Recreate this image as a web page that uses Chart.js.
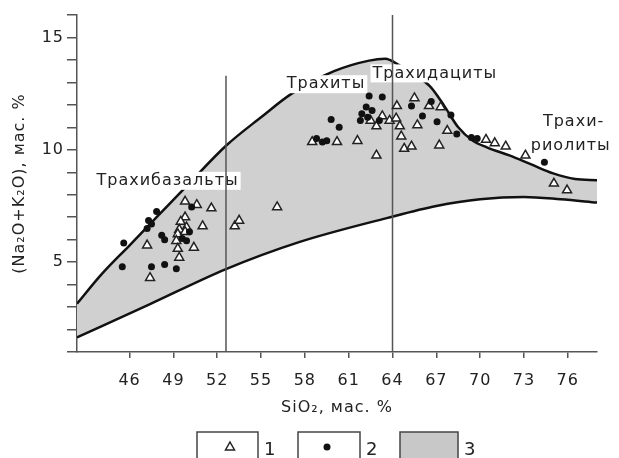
<!DOCTYPE html>
<html>
<head>
<meta charset="utf-8">
<script src="https://cdn.jsdelivr.net/npm/chart.js"></script>
<style>
  html, body { margin: 0; padding: 0; background: #fff; }
</style>
</head>
<body>
<canvas id="tas" width="619" height="458"></canvas>
<script>
// ---------------- данные ----------------
const xTicks = [46, 49, 52, 55, 58, 61, 64, 67, 70, 73, 76];

// 1 - треугольники
const triX = [49.8, 50.6, 51.6, 49.8, 49.5, 51.0, 49.9, 49.4, 49.3, 49.8, 49.2, 50.4, 49.3, 49.4, 47.2, 47.4,
  53.2, 53.5, 56.1,
  58.5, 60.2, 61.6, 62.9, 62.5, 63.3, 62.9, 63.8, 64.25, 64.5, 64.6, 64.8,
  64.3, 65.5, 66.5, 67.3, 65.7, 65.3, 67.2, 67.75,
  70.4, 71.0, 71.75, 73.1, 75.05, 75.95];
const triY = [7.7, 7.55, 7.4, 7.0, 6.8, 6.6, 6.55, 6.45, 6.25, 6.35, 5.95, 5.65, 5.6, 5.2, 5.75, 4.3,
  6.6, 6.85, 7.45,
  10.35, 10.35, 10.4, 9.75, 11.3, 11.5, 11.05, 11.3, 11.4, 11.05, 10.6, 10.05,
  11.95, 12.3, 11.95, 11.9, 11.1, 10.15, 10.2, 10.85,
  10.45, 10.3, 10.15, 9.75, 8.5, 8.2];

// 2 - точки
const dotX = [47.85, 47.5, 47.2, 47.3, 48.2, 48.4, 45.6, 45.5, 47.5, 48.4, 49.2, 50.25, 49.6, 49.9, 50.1,
  59.8, 60.35, 58.8, 59.2, 59.5, 62.4, 63.3, 61.9, 62.3, 62.6, 63.1, 61.8, 62.2,
  65.3, 66.05, 66.65, 67.05, 68.0, 68.4, 69.4, 69.8, 74.4];
const dotY = [7.25, 6.7, 6.5, 6.85, 6.2, 6.0, 5.85, 4.8, 4.8, 4.9, 4.7, 7.45, 6.05, 5.95, 6.35,
  11.35, 11.0, 10.5, 10.35, 10.4, 12.4, 12.35, 11.6, 11.45, 11.75, 11.3, 11.3, 11.9,
  11.95, 11.5, 12.15, 11.25, 11.55, 10.7, 10.55, 10.5, 9.45];

// 3 - поле (верхняя и нижняя границы)
const upperX = [42.4, 44, 46, 48, 50, 52.6, 55, 57.1, 60, 62.4, 63.5, 64.5, 65.5, 66.6, 67.5, 68.5, 69.5, 70.5, 72, 73.5, 75, 76.5, 78];
const upperY = [3.15, 4.4, 5.75, 7.1, 8.45, 10.18, 11.45, 12.5, 13.5, 13.97, 14.05, 13.75, 13.35, 12.8, 12.0, 11.0, 10.4, 10.1, 9.75, 9.35, 8.95, 8.7, 8.65];
const lowerX = [42.4, 47.4, 52.6, 57.6, 63.6, 67, 70, 73, 75.5, 78];
const lowerY = [1.65, 3.13, 4.69, 5.89, 6.96, 7.5, 7.8, 7.9, 7.8, 7.65];

// вертикальные границы
const vLine1 = [[52.6, 1], [52.6, 13.3]];
const vLine2 = [[64, 1], [64, 16]];

// названия полей
const regionNames = ['Трахибазальты', 'Трахиты', 'Трахидациты', 'Трахи-', 'риолиты'];
const regionX = [48.6, 59.45, 66.9, 76.4, 76.2];
const regionY = [8.62, 12.92, 13.4, 11.25, 10.18];
const regionBg = [true, true, true, false, false];

const legendNames = ['1', '2', '3'];

// ---------------- вспомогательное ----------------
const FONT = '"DejaVu Sans", sans-serif';
const TEXT = '#222';
const toXY = (xs, ys) => xs.map((x, i) => ({ x: x, y: ys[i] }));
const pairs = (arr) => arr.map(p => ({ x: p[0], y: p[1] }));

const LOWER_IDX = 4;

const regionLabels = {
  id: 'regionLabels',
  beforeDraw(chart) {
    chart.ctx.letterSpacing = '1px';
  },
  afterDatasetDraw(chart, args) {
    if (args.index !== LOWER_IDX) return;
    const { ctx, scales: { x, y } } = chart;
    ctx.save();
    ctx.font = '16px ' + FONT;
    ctx.textAlign = 'center';
    ctx.textBaseline = 'middle';
    regionNames.forEach((name, i) => {
      const px = x.getPixelForValue(regionX[i]);
      const py = y.getPixelForValue(regionY[i]);
      if (regionBg[i]) {
        const w = ctx.measureText(name).width;
        ctx.fillStyle = '#fff';
        ctx.fillRect(px - w / 2 - 2, py - 9, w + 4, 18);
      }
      ctx.fillStyle = TEXT;
      ctx.fillText(name, px, py);
    });
    ctx.restore();
  },
  afterDraw(chart) {
    // условные обозначения
    const ctx = chart.ctx;
    ctx.save();
    const boxes = [197, 298, 400];
    const boxW = [61, 62, 58];
    ctx.lineWidth = 1.5;
    ctx.strokeStyle = '#444';
    boxes.forEach((bx, i) => {
      ctx.fillStyle = i === 2 ? '#c8c8c8' : '#fff';
      ctx.fillRect(bx, 432, boxW[i], 40);
      ctx.strokeRect(bx, 432, boxW[i], 40);
      ctx.fillStyle = TEXT;
      ctx.font = '18px ' + FONT;
      ctx.textAlign = 'left';
      ctx.textBaseline = 'middle';
      ctx.fillText(legendNames[i], bx + boxW[i] + 6, 450);
    });
    // треугольник
    ctx.beginPath();
    ctx.moveTo(230, 442);
    ctx.lineTo(234.5, 450);
    ctx.lineTo(225.5, 450);
    ctx.closePath();
    ctx.fillStyle = '#fff';
    ctx.fill();
    ctx.strokeStyle = '#222';
    ctx.stroke();
    // точка
    ctx.beginPath();
    ctx.arc(327, 447, 3.5, 0, Math.PI * 2);
    ctx.fillStyle = '#111';
    ctx.fill();
    ctx.restore();
  }
};

// ---------------- диаграмма ----------------
new Chart(document.getElementById('tas'), {
  type: 'line',
  data: {
    datasets: [
      {
        label: '2',
        data: toXY(dotX, dotY),
        showLine: false,
        pointStyle: 'circle',
        pointRadius: 3.5,
        pointBackgroundColor: '#111',
        pointBorderColor: '#111',
        pointBorderWidth: 0,
        order: 1
      },
      {
        label: '1',
        data: toXY(triX, triY),
        showLine: false,
        pointStyle: 'triangle',
        pointRadius: 5.2,
        pointBackgroundColor: '#fff',
        pointBorderColor: '#222',
        pointBorderWidth: 1.5,
        order: 2
      },
      {
        data: pairs(vLine1),
        borderColor: '#555',
        borderWidth: 1.5,
        pointRadius: 0,
        order: 3
      },
      {
        data: pairs(vLine2),
        borderColor: '#555',
        borderWidth: 1.5,
        pointRadius: 0,
        order: 3
      },
      {
        data: toXY(lowerX, lowerY),
        borderColor: '#111',
        borderWidth: 2.5,
        pointRadius: 0,
        cubicInterpolationMode: 'monotone',
        order: 4
      },
      {
        label: '3',
        data: toXY(upperX, upperY),
        borderColor: '#111',
        borderWidth: 2.5,
        pointRadius: 0,
        cubicInterpolationMode: 'monotone',
        fill: { target: LOWER_IDX },
        backgroundColor: '#d0d0d0',
        order: 5
      }
    ]
  },
  options: {
    responsive: false,
    animation: false,
    events: [],
    layout: { padding: { left: 0, top: 15, right: 22, bottom: 0 } },
    plugins: {
      legend: { display: false },
      tooltip: { enabled: false }
    },
    scales: {
      x: {
        type: 'linear',
        min: 42.4,
        max: 78,
        afterBuildTicks: (s) => { s.ticks = xTicks.map(v => ({ value: v })); },
        afterFit: (s) => { s.height = 106; },
        grid: { drawOnChartArea: false, tickLength: 6, color: '#555', lineWidth: 1.5 },
        border: { color: '#555', width: 1.5 },
        ticks: { font: { family: FONT, size: 16 }, color: TEXT, padding: 13, maxRotation: 0, autoSkip: false },
        title: {
          display: true,
          text: 'SiO₂, мас. %',
          font: { family: FONT, size: 16 },
          color: TEXT,
          padding: { bottom: 41 }
        }
      },
      y: {
        min: 1,
        max: 16,
        afterFit: (s) => { s.width = 77; },
        grid: { drawOnChartArea: false, tickLength: 10, color: '#555', lineWidth: 1.5 },
        border: { color: '#555', width: 1.5 },
        ticks: {
          stepSize: 1,
          autoSkip: false,
          padding: 3,
          font: { family: FONT, size: 16 },
          color: TEXT,
          callback: (v) => (v % 5 === 0 ? v : '')
        },
        title: {
          display: true,
          text: '(Na₂O+K₂O), мас. %',
          font: { family: FONT, size: 16 },
          color: TEXT,
          padding: { top: 10 }
        }
      }
    }
  },
  plugins: [regionLabels]
});
</script>
</body>
</html>
